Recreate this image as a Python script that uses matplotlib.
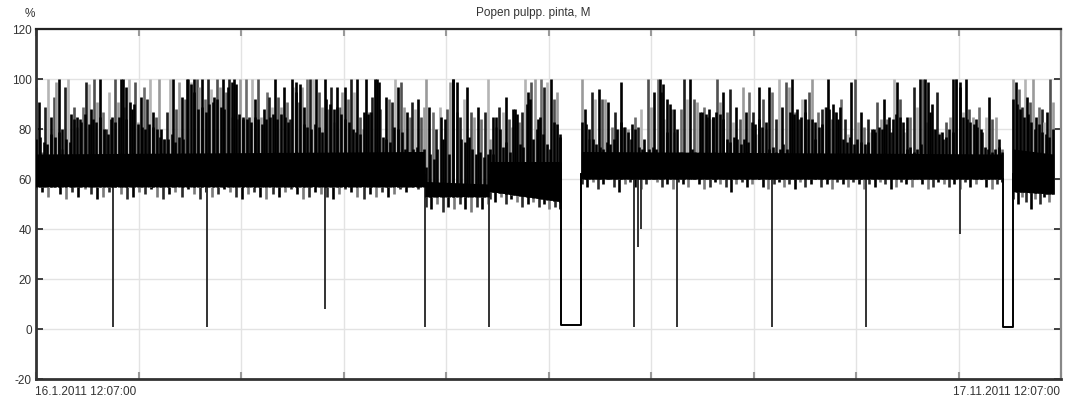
import numpy as np
import matplotlib
matplotlib.use('Agg')
import matplotlib.pyplot as plt

plt.rcParams['font.family'] = ['Liberation Sans', 'DejaVu Sans']

# ---------------- data ----------------
TOTAL_DAYS = 305.0                      # 16.1.2011 12:07 -> 17.11.2011 12:07
x_labels = ['16.1.2011 12:07:00', '17.11.2011 12:07:00']
y_ticks = [-20, 0, 20, 40, 60, 80, 100, 120]

# operating segments (days from start)
seg_start = [0.0, 116.0, 135.0, 162.5, 290.8]
seg_end = [115.5, 134.5, 156.0, 287.5, 302.6]
core_lo_start = [57, 53, 55, 60, 55]
core_lo_end = [57, 53, 51, 60, 54]
core_hi_start = [70, 59, 67, 71, 72]
core_hi_end = [71, 58, 67, 70, 70]

# isolated upward spikes (max values)
peaks_A = [97, 91, 71, 89, 100, 85, 93, 99, 100, 72, 97, 100, 86, 89, 81, 84, 89, 99, 98, 88,
           100, 91, 100, 87, 80, 95, 85, 100, 91, 100, 89, 84, 100, 88, 99, 83, 93, 97, 92, 100,
           87, 85, 100, 80, 76, 87, 100, 100, 88, 99, 93, 92, 100, 99, 95, 100, 97, 100, 92, 100,
           96, 93, 100, 97, 100, 95, 100, 85, 100, 84, 100, 84, 100, 85, 100, 92, 100, 85, 88, 95,
           93, 89, 100, 93, 89, 97, 91, 84, 97, 95, 91, 97, 89, 100,
           100, 100, 100, 95, 89, 100, 88, 97, 83, 97, 89, 95, 97, 92, 100, 95, 100, 85, 80, 100,
           87, 93, 100, 100, 88, 71, 93, 92, 91, 100, 97, 99, 89, 87, 85, 91, 88, 92, 85, 89]
peaks_B = [100, 89, 87, 80, 89, 76, 88, 99, 100, 87, 85, 92, 97, 87, 85, 89, 84, 87, 100]
peaks_C = [76, 85, 81, 89, 87, 93, 84, 81, 88, 83, 87, 100, 95, 99, 100, 84, 100,
           97, 99, 100, 92, 95, 78]
peaks_D = [100, 88, 76, 95, 92, 96, 92, 92, 91, 81, 87, 80, 99, 81, 80, 76, 85, 81, 88, 76,
           100, 89, 95, 100, 95, 84, 79, 88, 79, 80, 88, 100, 92, 100, 92, 91, 87, 89, 85, 84,
           85, 100, 91, 95, 87, 96, 83, 89, 84, 97, 87, 95, 87, 78, 97, 92, 80, 97, 95, 84,
           100, 89, 99, 97, 100, 87,
           84, 92, 92, 95, 100, 76, 87, 88, 89, 100, 84, 87, 84, 92, 84, 78, 99, 100, 83, 87,
           81, 84, 79, 80, 91, 84, 92, 84, 79, 100, 99, 92, 79, 85, 85, 97, 89, 100, 100, 83,
           87, 80, 95, 79, 76, 83, 85, 100, 100, 97, 87, 100, 88, 85, 84, 89, 79, 85, 93, 84,
           85, 76, 72]
peaks_E = [100, 99, 96, 89, 100, 93, 91, 100, 85, 89, 88, 83, 87, 100, 91]

# dense (dark) oscillation tops
mids_A = [76, 77, 75, 74, 78, 77, 79, 80, 76, 75, 84, 85, 83, 86, 82, 84, 83, 85, 80, 78,
          84, 83, 85, 100, 97, 91, 90, 82, 81, 80, 82, 81, 80, 77, 76, 76, 78, 75, 77, 76,
          100, 98, 100, 88, 89, 87, 90, 91, 92, 89, 88, 97, 99, 98, 86, 85, 84, 83, 85, 84,
          82, 84, 85, 86, 84, 86, 85, 83, 100, 99, 98, 82, 81, 80, 82, 81, 79,
          92, 90, 88, 89, 86, 84, 83, 80, 79, 78, 87, 86, 87, 100, 99, 77, 76, 75, 81, 80,
          79, 72, 71, 72, 73, 71, 72]
mids_B = [65, 70, 68, 72, 85, 84, 70, 100, 99, 76, 75, 77, 72, 70, 71, 69, 70]
mids_C = [72, 70, 85, 80, 73, 75, 71, 88, 86, 74, 73, 90, 92, 76, 80, 85, 78, 74, 72,
          83, 82, 77]
mids_D = [83, 82, 80, 76, 74, 73, 72, 75, 74, 76, 80, 83, 81, 79, 82, 80, 73, 72, 71, 72,
          73, 72, 100, 98, 92, 90, 88, 70, 71, 69, 70, 72, 71, 70, 87, 86, 88, 85, 87, 86,
          84, 76, 75, 77, 76, 74, 76, 75, 83, 82, 84, 81, 83, 72, 73, 71, 72, 74, 72, 87,
          86, 88, 85, 87, 84,
          84, 83, 81, 82, 89, 88, 90, 87, 89, 76, 75, 77, 74, 76, 75, 74, 75, 80, 79, 81,
          80, 82, 85, 84, 86, 85, 83, 72, 73, 71, 72, 74, 100, 99, 90, 80, 78, 79, 77, 80,
          79, 100, 99, 85, 84, 83, 82, 81, 80, 73, 72, 71, 72, 73, 71]
mids_E = [92, 90, 88, 85, 86, 83, 80, 82, 79, 78, 77, 80]

# downward excursions below the dense band
lows_A = [56, 55, 53, 57, 54, 52, 55, 53, 56, 54, 52, 53, 55, 57, 54, 52, 53, 55, 54, 56,
          53, 52, 54, 55, 53, 56, 54, 52, 55, 53, 54, 56, 55, 53, 52, 54, 55, 53, 52, 54,
          53, 55, 56, 54, 52, 53, 55, 54, 53, 52, 54, 56, 55, 53, 52, 54, 53, 55, 53, 54,
          56, 55, 57, 56, 58]
lows_B = [49, 48, 50, 47, 49, 48, 50, 48, 47, 49, 48, 50]
lows_C = [52, 51, 53, 50, 52, 51, 49, 50, 51, 49, 50, 48, 49, 48]
lows_D = [58, 57, 59, 56, 58, 60, 57, 55, 58, 59, 57, 56, 58, 60, 59, 57, 58, 56, 59, 58,
          57, 60, 58, 56, 57, 59, 58, 57, 55, 58, 59, 57, 58, 60, 57, 56, 58, 59, 57, 58,
          56, 59, 57, 58, 60, 57, 58, 56, 59, 58, 57, 59, 58, 56, 58, 57, 59, 58, 56, 57,
          59, 58, 57, 60, 58, 56, 57, 59, 58, 57, 58, 56, 59, 57, 58, 60, 57, 56, 58, 59]
lows_E = [52, 50, 53, 51, 48, 52, 50, 53, 51, 54]

# short drops towards zero (day, lowest value)
drop_day = [22.9, 50.9, 86.0, 115.8, 134.8, 162.2, 177.9, 179.1, 180.0, 190.7, 219.0, 247.0, 274.9]
drop_low = [1, 1, 8, 1, 1, 42, 1, 33, 40, 1, 1, 1, 38]

# shutdowns (level near zero)
outage_start = [156.2, 287.7]
outage_end = [162.2, 290.7]
outage_level = [1.5, 1.0]

# ---------------- plot ----------------
fig = plt.figure(figsize=(10.67, 4.03), dpi=100)
ax = fig.add_axes([36 / 1067, 1 - 379 / 403, 1025 / 1067, 350 / 403])

peaks_all = [peaks_A, peaks_B, peaks_C, peaks_D, peaks_E]
mids_all = [mids_A, mids_B, mids_C, mids_D, mids_E]
lows_all = [lows_A, lows_B, lows_C, lows_D, lows_E]
shade_cycle = ['#9a9a9a', '#000000', '#6c6c6c', '#1e1e1e', '#b4b4b4', '#000000', '#505050']

gray_t, gray_lo, gray_hi, gray_c = [], [], [], []
dark_t, dark_lo, dark_hi = [], [], []
for i in range(len(seg_start)):
    s, e = seg_start[i], seg_end[i]
    lo_line = [core_lo_start[i], core_lo_end[i]]
    hi_line = [core_hi_start[i], core_hi_end[i]]
    pk = peaks_all[i]
    tp = np.linspace(s, e, len(pk))
    base = np.interp(tp, [s, e], lo_line)
    for k in range(len(pk)):
        c = shade_cycle[k % len(shade_cycle)]
        if c == '#000000':
            dark_t.append(tp[k]); dark_lo.append(base[k]); dark_hi.append(pk[k])
        else:
            gray_t.append(tp[k]); gray_lo.append(base[k]); gray_hi.append(pk[k]); gray_c.append(c)
    md = mids_all[i]
    tm = np.linspace(s, e, len(md))
    dark_t.extend(tm); dark_lo.extend(np.interp(tm, [s, e], lo_line)); dark_hi.extend(md)
    lw_ = lows_all[i]
    tl = np.linspace(s, e, len(lw_))
    top = np.interp(tl, [s, e], hi_line)
    ax.vlines(tl, lw_, top, colors=['#2a2a2a', '#000000', '#7a7a7a'] * (len(lw_) // 3 + 1),
              lw=1.9, zorder=2)
    ax.fill_between([s, e], lo_line, hi_line, color='black', lw=0, zorder=4)

ax.vlines(gray_t, gray_lo, gray_hi, colors=gray_c, lw=1.9, zorder=2)
ax.vlines(dark_t, dark_lo, dark_hi, colors='black', lw=1.9, zorder=3)

for d, v in zip(drop_day, drop_low):
    ax.vlines(d, v, 62, colors='#333333', lw=1.4, zorder=2)

for s, e, lv in zip(outage_start, outage_end, outage_level):
    ax.plot([s, s, e, e], [60, lv, lv, 62], color='black', lw=1.4, zorder=3)

ax.set_xlim(0, TOTAL_DAYS)
ax.set_ylim(-20, 120)
ax.set_yticks(y_ticks)
ax.set_yticklabels([str(v) for v in y_ticks])
ax.set_xticks(np.linspace(0, TOTAL_DAYS, 11))
ax.set_xticklabels([])
ax.grid(True, color='#e3e3e3', lw=1.0, zorder=0)
ax.set_axisbelow(True)
ax.tick_params(axis='y', direction='in', length=5, width=1.2, colors='#222222',
               labelsize=8.5, labelcolor='#333333', pad=3, right=True)
ax.tick_params(axis='x', direction='in', length=5, width=1.5, colors='#999999', top=True)
for side in ['left', 'bottom']:
    ax.spines[side].set_linewidth(2.0)
    ax.spines[side].set_color('#333333')
ax.spines['top'].set_linewidth(1.6)
ax.spines['top'].set_color('#222222')
ax.spines['right'].set_linewidth(1.6)
ax.spines['right'].set_color('#888888')

fig.text(533 / 1067, 1 - 13 / 403, 'Popen pulpp. pinta, M', ha='center', va='center',
         fontsize=8.5, color='#333333')
fig.text(30 / 1067, 1 - 14 / 403, '%', ha='center', va='center', fontsize=8.5, color='#333333')
fig.text(35 / 1067, 1 - 392 / 403, x_labels[0], ha='left', va='center', fontsize=8.5, color='#333333')
fig.text(1060 / 1067, 1 - 392 / 403, x_labels[1], ha='right', va='center', fontsize=8.5, color='#333333')

fig.savefig('out.png', dpi=100)
